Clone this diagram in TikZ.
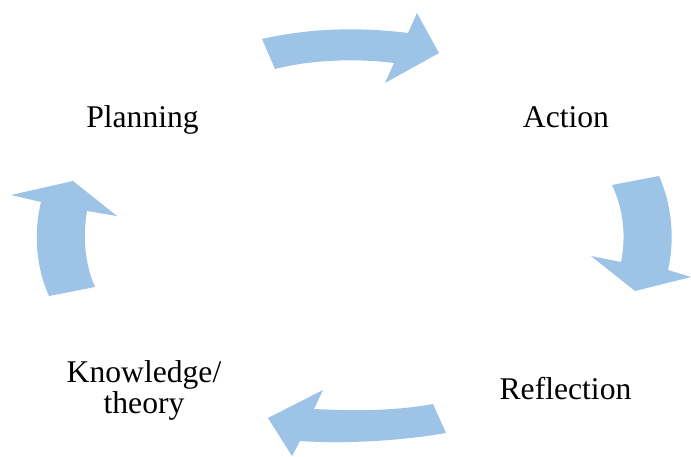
\documentclass[tikz,border=0pt]{standalone}
\usepackage{fontspec}
\setmainfont{Liberation Serif}
\definecolor{cyclefill}{HTML}{9DC3E6}

\begin{document}
\begin{tikzpicture}[x=0.02cm, y=-0.02cm,
    stage/.style={anchor=base, inner sep=0pt, align=center,
        font=\fontsize{18}{14.8}\selectfont},
    blockarrow/.style={fill=cyclefill, draw=none}]
    \useasboundingbox (0,0) rectangle (691,457);

    \node[stage] (Planning) at (142.5,127) {Planning};
    \node[stage] (Action) at (566,127) {Action};
    \node[stage] (Reflection) at (565.5,399) {Reflection};
    \node[stage, anchor=north] (Knowledge) at (144,360.5) {Knowledge/\\theory};

    \fill[blockarrow] (262,39) .. controls (310,28) and (360,27) .. (408,33)
        -- (417,13) -- (439,53) -- (385,83) -- (394,63)
        .. controls (355,58) and (310,60) .. (275,69) -- cycle;
    \fill[blockarrow] (612,185) -- (659,176)
        .. controls (672,205) and (675,240) .. (668,270)
        -- (691,277) -- (635,291) -- (591,256) -- (621,262)
        .. controls (626,238) and (624,210) .. (612,185) -- cycle;
    \fill[blockarrow] (433,404) .. controls (395,411) and (355,411) .. (314,409)
        -- (323,390) -- (268,418) -- (292,456) -- (300,441)
        .. controls (345,444) and (400,441) .. (446,433) -- cycle;
    \fill[blockarrow] (49,296) .. controls (35,265) and (34,230) .. (41,202)
        -- (11,195) -- (73,181) -- (117,216) -- (87,211)
        .. controls (83,235) and (84,262) .. (95,287) -- cycle;
\end{tikzpicture}
\end{document}
